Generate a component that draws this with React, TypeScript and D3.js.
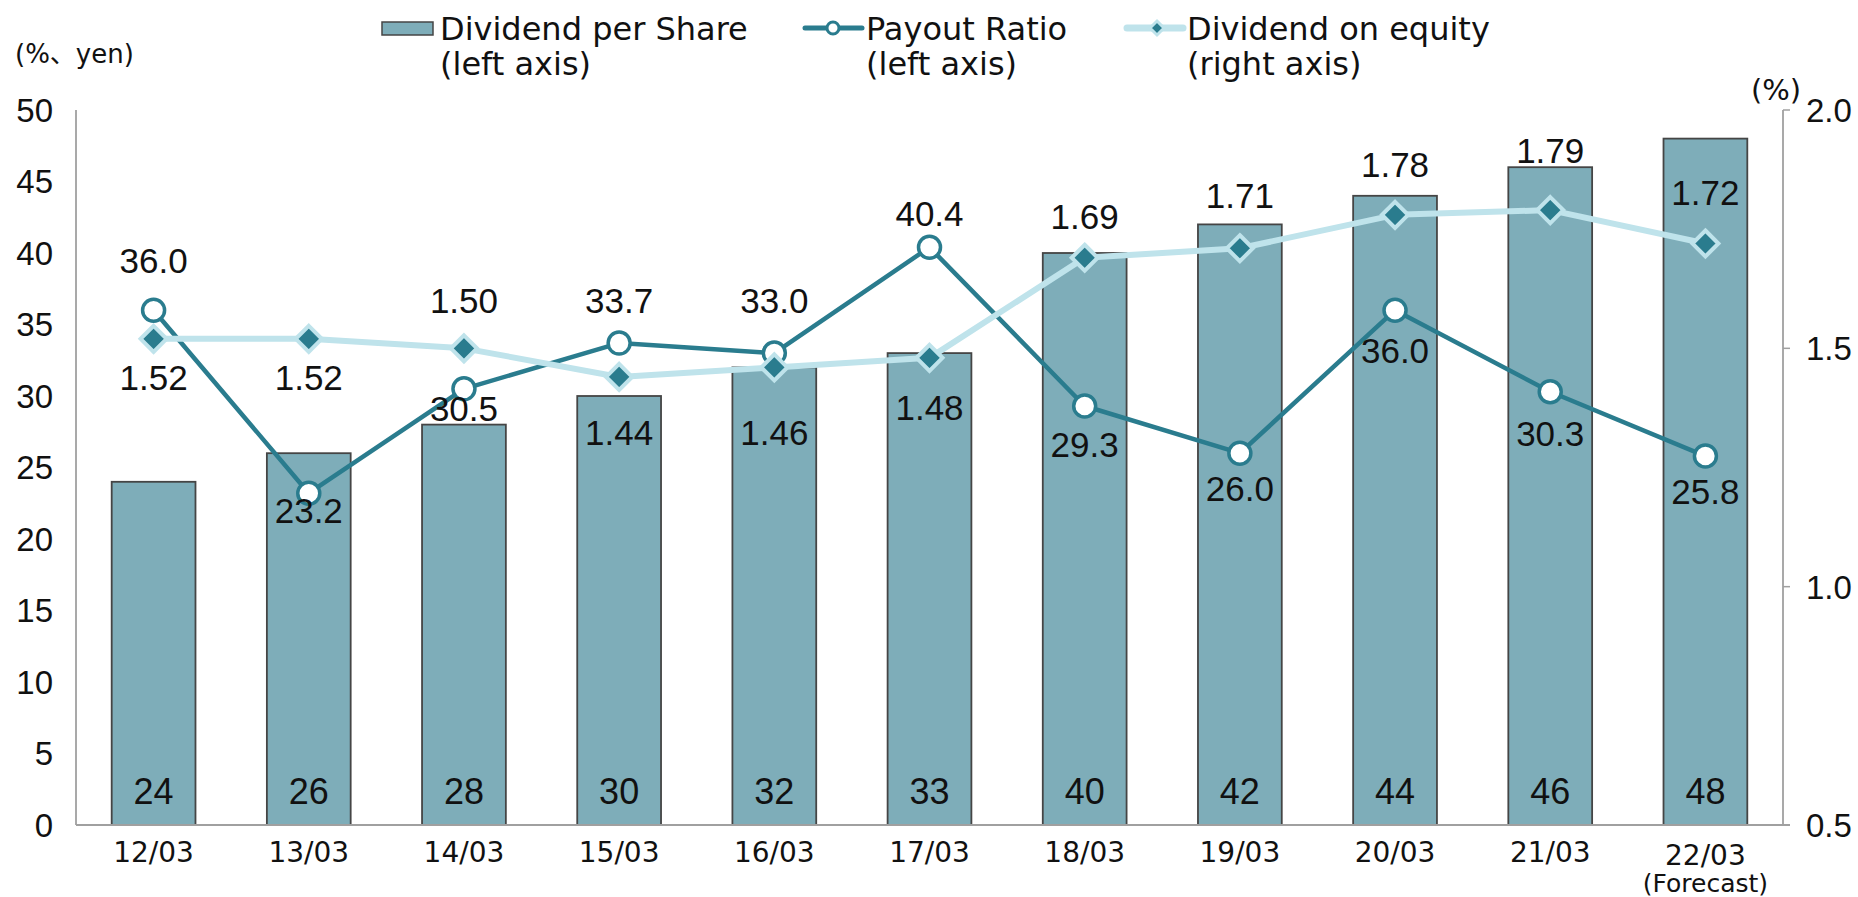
import React from 'react';
import * as d3 from 'd3';

const categories = ['12/03', '13/03', '14/03', '15/03', '16/03', '17/03', '18/03', '19/03', '20/03', '21/03', '22/03'];
const dividendPerShare = [24, 26, 28, 30, 32, 33, 40, 42, 44, 46, 48];
const payoutRatio = [36.0, 23.2, 30.5, 33.7, 33.0, 40.4, 29.3, 26.0, 36.0, 30.3, 25.8];
const dividendOnEquity = [1.52, 1.52, 1.50, 1.44, 1.46, 1.48, 1.69, 1.71, 1.78, 1.79, 1.72];
const leftTicks = [0, 5, 10, 15, 20, 25, 30, 35, 40, 45, 50];
const rightTicks = [0.5, 1.0, 1.5, 2.0];
// label offsets (layout), relative to marker
const payoutLabelDy = [-50, 17, 20, -43, -53, -34, 38, 35, 40, 42, 35];
const doeLabelDy = [39, 39, -48, 55, 65, 50, -41, -53, -50, -60, -51];

const W = 1858;
const H = 897;
const L = 76;
const R = 1783;
const TOP = 110;
const BOTTOM = 825;

const BAR = '#7EADB9';
const BAR_STROKE = '#454545';
const DARK = '#2A7C8E';
const LIGHT = '#BFE3EB';
const AXIS = '#A0A0A0';
const NUM_FONT = '"Liberation Sans", Arial, sans-serif';
const TXT_FONT = '"DejaVu Sans", "Noto Sans CJK JP", sans-serif';

export default function App() {
  const x = d3.scaleBand<string>().domain(categories).range([L, R]).paddingInner(0.46).paddingOuter(0.23);
  const yL = d3.scaleLinear().domain([0, 50]).range([BOTTOM, TOP]);
  const yR = d3.scaleLinear().domain([0.5, 2.0]).range([BOTTOM, TOP]);
  const bw = x.bandwidth();
  const cx = (c: string) => (x(c) as number) + bw / 2;

  const payoutLine = d3.line<number>().x((_, i) => cx(categories[i])).y((d) => yL(d))(payoutRatio) as string;
  const doeLine = d3.line<number>().x((_, i) => cx(categories[i])).y((d) => yR(d))(dividendOnEquity) as string;

  const diamond = (px: number, py: number, h: number) =>
    `M${px},${py - h}L${px + h},${py}L${px},${py + h}L${px - h},${py}Z`;

  return (
    <svg width={W} height={H} style={{ position: 'absolute', left: 0, top: 0, display: 'block' }}>
      <rect x={0} y={0} width={W} height={H} fill="#fff" />

      {/* Legend */}
      <rect x={382} y={22} width={51} height={13} fill={BAR} stroke={BAR_STROKE} strokeWidth={1.5} />
      <text x={440} y={40} fontFamily={TXT_FONT} fontSize={32} fill="#111">Dividend per Share</text>
      <text x={440} y={75} fontFamily={TXT_FONT} fontSize={32} fill="#111">(left axis)</text>

      <line x1={805} x2={862} y1={28} y2={28} stroke={DARK} strokeWidth={5} strokeLinecap="round" />
      <circle cx={833} cy={28} r={6} fill="#fff" stroke={DARK} strokeWidth={3} />
      <text x={866} y={40} fontFamily={TXT_FONT} fontSize={32} fill="#111">Payout Ratio</text>
      <text x={866} y={75} fontFamily={TXT_FONT} fontSize={32} fill="#111">(left axis)</text>

      <line x1={1127} x2={1183} y1={28} y2={28} stroke={LIGHT} strokeWidth={7} strokeLinecap="round" />
      <path d={diamond(1157, 28, 7)} fill={DARK} stroke={LIGHT} strokeWidth={3} />
      <text x={1187} y={40} fontFamily={TXT_FONT} fontSize={32} fill="#111">Dividend on equity</text>
      <text x={1187} y={75} fontFamily={TXT_FONT} fontSize={32} fill="#111">(right axis)</text>

      {/* Axis unit labels */}
      <text x={15} y={63} fontFamily={TXT_FONT} fontSize={26} fill="#111">(%、yen)</text>
      <text x={1776} y={100} fontFamily={TXT_FONT} fontSize={29} fill="#111" textAnchor="middle">(%)</text>

      {/* Left ticks */}
      {leftTicks.map((t) => (
        <text key={'l' + t} x={53} y={yL(t)} dy="0.36em" textAnchor="end" fontFamily={NUM_FONT} fontSize={33} fill="#111">
          {t}
        </text>
      ))}
      {/* Right ticks */}
      {rightTicks.map((t) => (
        <g key={'r' + t}>
          <line x1={R} x2={R + 7} y1={yR(t)} y2={yR(t)} stroke={AXIS} strokeWidth={1.5} />
          <text x={1806} y={yR(t)} dy="0.36em" fontFamily={NUM_FONT} fontSize={33} fill="#111">
            {t.toFixed(1)}
          </text>
        </g>
      ))}

      {/* Bars */}
      {dividendPerShare.map((v, i) => (
        <rect
          key={'b' + i}
          x={x(categories[i])}
          y={yL(v)}
          width={bw}
          height={BOTTOM - yL(v)}
          fill={BAR}
          stroke={BAR_STROKE}
          strokeWidth={1.8}
        />
      ))}

      {/* Axes */}
      <line x1={L} x2={L} y1={TOP} y2={BOTTOM} stroke={AXIS} strokeWidth={1.8} />
      <line x1={R} x2={R} y1={TOP} y2={BOTTOM} stroke={AXIS} strokeWidth={1.8} />
      <line x1={L} x2={R + 7} y1={BOTTOM} y2={BOTTOM} stroke={AXIS} strokeWidth={2} />

      {/* X labels */}
      {categories.map((c, i) =>
        i === categories.length - 1 ? (
          <g key={'x' + c}>
            <text x={cx(c)} y={865} textAnchor="middle" fontFamily={TXT_FONT} fontSize={28} fill="#111">{c}</text>
            <text x={cx(c)} y={892} textAnchor="middle" fontFamily={TXT_FONT} fontSize={25} fill="#111">(Forecast)</text>
          </g>
        ) : (
          <text key={'x' + c} x={cx(c)} y={862} textAnchor="middle" fontFamily={TXT_FONT} fontSize={28} fill="#111">
            {c}
          </text>
        )
      )}

      {/* Payout ratio line */}
      <path d={payoutLine} fill="none" stroke={DARK} strokeWidth={4.5} strokeLinejoin="round" />
      {payoutRatio.map((v, i) => (
        <circle key={'p' + i} cx={cx(categories[i])} cy={yL(v)} r={11} fill="#fff" stroke={DARK} strokeWidth={3.5} />
      ))}

      {/* Dividend on equity line */}
      <path d={doeLine} fill="none" stroke={LIGHT} strokeWidth={6} strokeLinejoin="round" />
      {dividendOnEquity.map((v, i) => (
        <path key={'d' + i} d={diamond(cx(categories[i]), yR(v), 13)} fill={DARK} stroke={LIGHT} strokeWidth={4} />
      ))}

      {/* Bar labels */}
      {dividendPerShare.map((v, i) => (
        <text key={'bl' + i} x={cx(categories[i])} y={804} textAnchor="middle" fontFamily={NUM_FONT} fontSize={36} fill="#111">
          {v}
        </text>
      ))}

      {/* Data labels */}
      {payoutRatio.map((v, i) => (
        <text
          key={'pl' + i}
          x={cx(categories[i])}
          y={yL(v) + payoutLabelDy[i]}
          dy="0.36em"
          textAnchor="middle"
          fontFamily={NUM_FONT}
          fontSize={35}
          fill="#111"
        >
          {v.toFixed(1)}
        </text>
      ))}
      {dividendOnEquity.map((v, i) => (
        <text
          key={'dl' + i}
          x={cx(categories[i])}
          y={yR(v) + doeLabelDy[i]}
          dy="0.36em"
          textAnchor="middle"
          fontFamily={NUM_FONT}
          fontSize={35}
          fill="#111"
        >
          {v.toFixed(2)}
        </text>
      ))}
    </svg>
  );
}
